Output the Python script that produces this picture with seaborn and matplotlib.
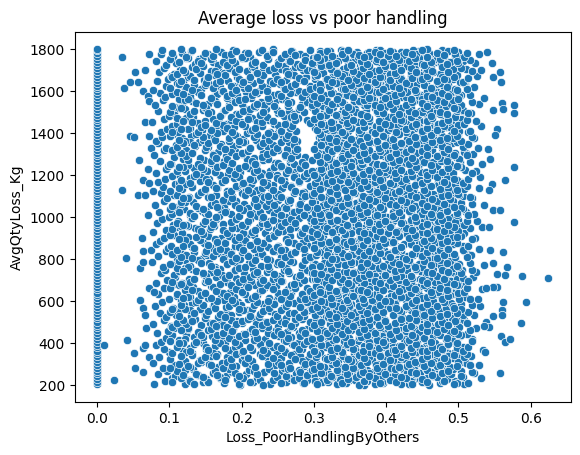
import pandas as pd
import matplotlib
matplotlib.use("Agg")
import matplotlib.pyplot as plt
import seaborn as sns

# points sitting exactly on Loss_PoorHandlingByOthers = 0 (only the qty varies)
zero_loss_qty = [203, 214, 229, 241, 256, 268, 283, 297, 309, 322, 338, 351, 364, 379, 392, 406,
                 418, 433, 447, 461, 474, 488, 502, 517, 529, 543, 558, 571, 586, 599, 613, 627,
                 640, 655, 668, 682, 697, 710, 724, 737, 752, 766, 779, 793, 808, 821, 835, 849,
                 862, 877, 890, 904, 919, 932, 946, 960, 973, 988, 1001, 1015, 1029, 1043, 1057,
                 1070, 1084, 1099, 1112, 1126, 1140, 1153, 1168, 1181, 1195, 1209, 1224, 1237,
                 1251, 1266, 1279, 1293, 1307, 1320, 1335, 1349, 1362, 1377, 1390, 1404, 1418,
                 1432, 1446, 1460, 1473, 1488, 1501, 1515, 1529, 1543, 1557, 1570, 1584, 1599,
                 1612, 1626, 1640, 1654, 1668, 1681, 1696, 1709, 1723, 1738, 1751, 1765, 1779,
                 1794, 1801]

# sparse points left of the main cloud
left_loss = [0.035, 0.072, 0.053, 0.067, 0.037, 0.046, 0.056, 0.063, 0.070, 0.072, 0.046, 0.051,
             0.072, 0.074, 0.035, 0.056, 0.067, 0.063, 0.072, 0.062, 0.040, 0.063, 0.075, 0.060,
             0.063, 0.072, 0.060, 0.063, 0.067, 0.010, 0.042, 0.051, 0.063, 0.066, 0.072, 0.024,
             0.053, 0.063, 0.068, 0.070, 0.066, 0.071, 0.058]
left_qty = [1763, 1774, 1691, 1699, 1615, 1642, 1642, 1599, 1575, 1551, 1384, 1381,
            1384, 1330, 1130, 1106, 1106, 1178, 1162, 900, 804, 836, 844, 757,
            788, 661, 605, 566, 534, 391, 415, 351, 375, 391, 335, 224,
            280, 264, 470, 1010, 1450, 1230, 1270]

# main cloud, loss in thousandths, written row by row (two rows per 40 kg band)
cloud_loss_milli = [
    [79, 94, 103, 121, 127, 146, 152, 170, 176, 193, 198, 216, 221, 239, 244, 262, 267, 285, 291, 306],
    [311, 327, 332, 348, 353, 369, 374, 390, 395, 411, 416, 432, 437, 453, 458, 474, 479, 496, 508, 531],
    [84, 97, 108, 115, 133, 140, 161, 164, 179, 187, 206, 210, 227, 231, 250, 256, 275, 279, 295, 300],
    [318, 321, 336, 342, 360, 363, 381, 384, 399, 405, 424, 426, 441, 447, 466, 468, 483, 490, 503, 522],
    [77, 91, 106, 122, 128, 144, 155, 168, 173, 192, 200, 213, 219, 238, 246, 259, 266, 286, 297, 304],
    [313, 325, 334, 346, 357, 367, 372, 388, 397, 412, 418, 430, 439, 451, 460, 472, 478, 494, 511, 528],
    [86, 99, 101, 117, 131, 142, 157, 166, 180, 189, 203, 209, 226, 235, 249, 255, 272, 281, 292, 301],
    [315, 323, 339, 344, 355, 365, 379, 386, 400, 407, 420, 428, 444, 449, 463, 470, 485, 492, 499, 517],
    [81, 93, 110, 119, 129, 147, 151, 163, 182, 191, 197, 214, 225, 237, 243, 260, 270, 283, 298, 307],
    [310, 328, 331, 349, 352, 370, 376, 387, 402, 409, 415, 433, 436, 454, 457, 475, 481, 497, 506, 534],
    [88, 96, 104, 114, 134, 139, 159, 171, 177, 186, 205, 217, 223, 232, 252, 258, 269, 278, 294, 302],
    [319, 320, 340, 341, 361, 362, 378, 383, 403, 404, 423, 425, 443, 446, 465, 467, 486, 489, 502, 519],
    [83, 98, 107, 123, 126, 141, 154, 165, 183, 188, 202, 212, 228, 236, 248, 263, 271, 280, 290, 308],
    [314, 326, 335, 345, 359, 364, 377, 391, 398, 408, 421, 430, 440, 452, 462, 471, 484, 493, 512, 525],
    [78, 92, 102, 118, 135, 144, 156, 169, 174, 194, 200, 218, 220, 233, 251, 254, 274, 284, 299, 303],
    [312, 322, 338, 347, 354, 368, 373, 385, 396, 413, 417, 427, 445, 448, 459, 476, 480, 498, 500, 538],
    [87, 95, 109, 113, 130, 148, 150, 167, 178, 185, 208, 211, 224, 240, 246, 261, 265, 287, 293, 305],
    [317, 329, 330, 343, 356, 366, 380, 389, 394, 410, 419, 434, 438, 450, 464, 469, 487, 491, 507, 521],
    [80, 90, 105, 120, 132, 143, 160, 162, 179, 195, 199, 215, 229, 234, 245, 257, 273, 282, 296, 300],
    [320, 324, 336, 350, 351, 371, 375, 384, 401, 406, 425, 429, 442, 455, 456, 473, 478, 495, 504, 530],
    [85, 99, 111, 116, 128, 145, 153, 172, 175, 190, 204, 209, 222, 238, 250, 259, 268, 281, 295, 309],
    [311, 328, 333, 344, 360, 363, 382, 386, 399, 412, 416, 431, 439, 451, 461, 477, 483, 492, 509, 527],
    [79, 93, 103, 122, 133, 140, 157, 166, 184, 187, 201, 219, 226, 231, 247, 264, 270, 286, 291, 304],
    [316, 323, 339, 348, 353, 369, 372, 392, 397, 407, 420, 426, 444, 447, 466, 470, 481, 497, 501, 533],
    [82, 97, 108, 117, 127, 149, 151, 164, 180, 192, 206, 213, 225, 241, 244, 256, 275, 279, 298, 302],
    [313, 325, 341, 346, 357, 365, 379, 388, 404, 409, 418, 433, 437, 454, 458, 468, 486, 490, 510, 520],
    [89, 94, 106, 114, 131, 146, 158, 170, 173, 189, 203, 216, 221, 235, 253, 258, 266, 284, 292, 306],
    [318, 327, 332, 349, 355, 370, 376, 383, 400, 411, 424, 428, 441, 449, 463, 474, 479, 494, 505, 524],
    [76, 91, 104, 121, 129, 142, 155, 163, 181, 193, 198, 210, 227, 239, 249, 262, 271, 283, 297, 301],
    [310, 321, 337, 342, 358, 367, 381, 390, 395, 408, 422, 432, 436, 453, 460, 472, 485, 496, 498, 536],
    [84, 96, 110, 119, 134, 144, 152, 168, 176, 186, 207, 214, 223, 230, 246, 255, 269, 288, 294, 307],
    [315, 329, 334, 351, 352, 362, 374, 387, 402, 405, 417, 429, 446, 450, 465, 469, 482, 489, 513, 518],
    [81, 98, 102, 115, 132, 148, 161, 167, 179, 191, 200, 217, 229, 237, 251, 260, 272, 278, 290, 305],
    [319, 326, 336, 345, 361, 368, 378, 385, 397, 413, 421, 425, 443, 455, 457, 475, 480, 493, 506, 529],
    [87, 92, 107, 123, 126, 143, 154, 171, 177, 188, 205, 211, 220, 236, 243, 263, 267, 285, 299, 303],
    [312, 322, 340, 347, 354, 364, 383, 391, 396, 410, 419, 434, 440, 448, 462, 471, 487, 497, 502, 523],
    [78, 95, 109, 118, 135, 141, 156, 162, 183, 194, 202, 218, 224, 232, 248, 257, 274, 282, 293, 308],
    [317, 324, 331, 350, 356, 366, 375, 389, 403, 406, 423, 427, 438, 452, 464, 467, 484, 491, 508, 532],
    [83, 90, 105, 112, 130, 147, 159, 165, 174, 190, 208, 212, 228, 240, 252, 254, 268, 280, 296, 300],
    [314, 328, 338, 343, 360, 371, 373, 386, 399, 409, 415, 431, 445, 451, 459, 476, 478, 495, 500, 526],
    [86, 99, 103, 120, 128, 145, 150, 169, 178, 185, 199, 215, 222, 238, 245, 261, 270, 287, 291, 304],
    [320, 323, 335, 348, 353, 363, 380, 384, 401, 412, 418, 430, 442, 447, 466, 470, 483, 492, 511, 521],
    [80, 93, 111, 116, 133, 140, 157, 172, 175, 192, 204, 209, 226, 234, 250, 259, 266, 279, 298, 302],
    [311, 327, 339, 344, 359, 369, 376, 392, 394, 407, 424, 433, 437, 454, 461, 474, 486, 490, 503, 535],
    [88, 97, 106, 122, 127, 146, 153, 164, 182, 187, 201, 219, 227, 231, 247, 264, 273, 283, 294, 306],
    [316, 321, 341, 349, 357, 365, 372, 388, 398, 411, 420, 426, 444, 450, 463, 468, 481, 496, 507, 519],
    [77, 91, 108, 117, 131, 149, 160, 166, 180, 193, 206, 213, 221, 241, 244, 256, 268, 286, 297, 301],
    [313, 325, 332, 346, 355, 370, 379, 383, 404, 406, 416, 432, 439, 449, 458, 476, 479, 494, 499, 528],
    [84, 94, 104, 114, 129, 142, 155, 170, 173, 189, 203, 216, 225, 235, 253, 258, 275, 280, 290, 309],
    [318, 329, 334, 342, 361, 367, 374, 390, 396, 409, 422, 428, 441, 453, 460, 472, 487, 497, 504, 530],
    [81, 96, 110, 121, 134, 144, 152, 163, 181, 194, 198, 210, 228, 239, 249, 262, 272, 276, 305, 311],
    [310, 322, 337, 351, 352, 362, 381, 387, 400, 413, 417, 431, 436, 448, 465, 469, 484, 489, 509, 524],
    [87, 98, 102, 119, 126, 148, 158, 168, 176, 186, 207, 214, 220, 230, 246, 255, 267, 273, 306, 313],
    [319, 326, 336, 345, 358, 368, 378, 385, 402, 405, 421, 429, 446, 455, 457, 471, 480, 493, 502, 533],
    [79, 92, 107, 115, 132, 143, 161, 167, 179, 191, 200, 217, 229, 237, 251, 260, 269, 277, 288, 308],
    [312, 324, 340, 347, 354, 364, 383, 391, 397, 410, 419, 434, 440, 452, 462, 475, 485, 497, 510, 520],
    [85, 95, 109, 123, 135, 141, 154, 171, 177, 188, 205, 211, 224, 236, 243, 263, 265, 274, 304, 315],
    [317, 328, 331, 350, 356, 366, 375, 389, 403, 406, 423, 427, 438, 451, 464, 467, 482, 491, 506, 527],
    [82, 90, 105, 118, 130, 147, 156, 162, 183, 194, 202, 218, 220, 232, 248, 257, 270, 276, 307, 310],
    [314, 321, 338, 343, 360, 371, 373, 386, 399, 409, 415, 431, 445, 449, 459, 476, 478, 495, 500, 522],
    [89, 97, 103, 112, 128, 145, 159, 165, 174, 190, 208, 212, 228, 240, 252, 254, 264, 275, 302, 312],
    [320, 323, 335, 348, 353, 363, 380, 384, 401, 412, 418, 430, 442, 454, 466, 470, 483, 492, 513, 531],
    [76, 93, 111, 116, 133, 140, 150, 169, 178, 185, 199, 215, 222, 238, 245, 261, 271, 278, 291, 306],
    [311, 327, 339, 344, 359, 369, 376, 392, 394, 407, 424, 433, 437, 447, 461, 474, 486, 490, 503, 525],
    [84, 99, 106, 122, 127, 146, 157, 172, 175, 192, 204, 209, 226, 234, 250, 259, 266, 273, 303, 314],
    [316, 325, 341, 349, 357, 365, 372, 388, 398, 411, 420, 426, 444, 450, 463, 468, 481, 496, 507, 518],
    [80, 91, 108, 117, 131, 149, 153, 164, 182, 187, 201, 219, 227, 231, 247, 264, 268, 283, 297, 301],
    [313, 329, 332, 346, 355, 370, 379, 383, 404, 406, 416, 432, 439, 453, 458, 472, 479, 494, 499, 529],
    [87, 94, 104, 114, 129, 142, 160, 166, 180, 193, 206, 213, 221, 241, 244, 256, 275, 286, 290, 309],
    [318, 322, 334, 342, 361, 367, 374, 390, 396, 409, 422, 428, 441, 448, 460, 476, 487, 497, 504, 536],
    [78, 96, 110, 121, 134, 144, 155, 170, 173, 189, 203, 216, 225, 235, 253, 258, 272, 280, 294, 305],
    [310, 324, 337, 351, 352, 362, 381, 387, 400, 413, 417, 431, 436, 455, 465, 469, 484, 489, 509, 521],
    [83, 98, 102, 119, 126, 148, 152, 163, 181, 194, 198, 210, 228, 239, 249, 262, 267, 277, 289, 302],
    [319, 326, 336, 345, 358, 368, 378, 385, 402, 405, 421, 429, 446, 451, 457, 471, 480, 493, 502, 526],
    [86, 92, 107, 115, 132, 143, 158, 168, 176, 186, 207, 214, 220, 230, 246, 255, 269, 274, 285, 307],
    [312, 328, 340, 347, 354, 364, 383, 391, 397, 410, 419, 434, 440, 452, 462, 475, 485, 495, 510, 531],
    [81, 95, 109, 123, 135, 141, 161, 167, 179, 191, 200, 217, 229, 237, 251, 260, 265, 276, 299, 304],
    [317, 321, 331, 350, 356, 366, 375, 389, 403, 406, 423, 427, 438, 449, 464, 467, 482, 491, 506, 523],
    [88, 90, 105, 118, 130, 147, 154, 171, 177, 188, 205, 211, 224, 236, 243, 263, 270, 281, 288, 308],
    [314, 323, 338, 343, 360, 371, 373, 386, 399, 409, 415, 431, 445, 454, 459, 476, 478, 495, 500, 528],
]
cloud_qty = [
    [207, 219, 233, 204, 226, 212, 221, 235, 209, 228, 202, 216, 231, 206, 223, 214, 234, 208, 225, 218],
    [215, 237, 206, 223, 231, 201, 218, 228, 211, 234, 220, 203, 226, 213, 239, 209, 229, 217, 205, 232],
    [251, 269, 243, 262, 274, 247, 257, 270, 245, 264, 253, 272, 250, 260, 241, 267, 255, 273, 261, 249],
    [272, 250, 264, 241, 257, 278, 253, 267, 245, 260, 275, 248, 269, 255, 262, 243, 276, 251, 266, 259],
    [305, 282, 294, 316, 288, 310, 299, 284, 307, 292, 318, 301, 286, 313, 296, 280, 304, 290, 315, 298],
    [284, 302, 316, 294, 307, 289, 311, 298, 282, 305, 292, 317, 287, 300, 313, 296, 308, 280, 303, 293],
    [335, 357, 326, 343, 351, 321, 338, 348, 331, 354, 340, 323, 346, 333, 359, 329, 349, 337, 325, 352],
    [327, 339, 353, 324, 346, 332, 341, 355, 329, 348, 322, 336, 351, 326, 343, 334, 354, 328, 345, 338],
    [392, 370, 384, 361, 377, 398, 373, 387, 365, 380, 395, 368, 389, 375, 382, 363, 396, 371, 386, 379],
    [371, 389, 363, 382, 394, 367, 377, 390, 365, 384, 373, 392, 370, 380, 361, 387, 375, 393, 381, 369],
    [404, 422, 436, 414, 427, 409, 431, 418, 402, 425, 412, 437, 407, 420, 433, 416, 428, 400, 423, 413],
    [425, 402, 414, 436, 408, 430, 419, 404, 427, 412, 438, 421, 406, 433, 416, 400, 424, 410, 435, 418],
    [447, 459, 473, 444, 466, 452, 461, 475, 449, 468, 442, 456, 471, 446, 463, 454, 474, 448, 465, 458],
    [455, 477, 446, 463, 471, 441, 458, 468, 451, 474, 460, 443, 466, 453, 479, 449, 469, 457, 445, 472],
    [491, 509, 483, 502, 514, 487, 497, 510, 485, 504, 493, 512, 490, 500, 481, 507, 495, 513, 501, 489],
    [512, 490, 504, 481, 497, 518, 493, 507, 485, 500, 515, 488, 509, 495, 502, 483, 516, 491, 506, 499],
    [545, 522, 534, 556, 528, 550, 539, 524, 547, 532, 558, 541, 526, 553, 536, 520, 544, 530, 555, 538],
    [524, 542, 556, 534, 547, 529, 551, 538, 522, 545, 532, 557, 527, 540, 553, 536, 548, 520, 543, 533],
    [575, 597, 566, 583, 591, 561, 578, 588, 571, 594, 580, 563, 586, 573, 599, 569, 589, 577, 565, 592],
    [567, 579, 593, 564, 586, 572, 581, 595, 569, 588, 562, 576, 591, 566, 583, 574, 594, 568, 585, 578],
    [632, 610, 624, 601, 617, 638, 613, 627, 605, 620, 635, 608, 629, 615, 622, 603, 636, 611, 626, 619],
    [611, 629, 603, 622, 634, 607, 617, 630, 605, 624, 613, 632, 610, 620, 601, 627, 615, 633, 621, 609],
    [644, 662, 676, 654, 667, 649, 671, 658, 642, 665, 652, 677, 647, 660, 673, 656, 668, 640, 663, 653],
    [665, 642, 654, 676, 648, 670, 659, 644, 667, 652, 678, 661, 646, 673, 656, 640, 664, 650, 675, 658],
    [687, 699, 713, 684, 706, 692, 701, 715, 689, 708, 682, 696, 711, 686, 703, 694, 714, 688, 705, 698],
    [695, 717, 686, 703, 711, 681, 698, 708, 691, 714, 700, 683, 706, 693, 719, 689, 709, 697, 685, 712],
    [731, 749, 723, 742, 754, 727, 737, 750, 725, 744, 733, 752, 730, 740, 721, 747, 735, 753, 741, 729],
    [752, 730, 744, 721, 737, 758, 733, 747, 725, 740, 755, 728, 749, 735, 742, 723, 756, 731, 746, 739],
    [785, 762, 774, 796, 768, 790, 779, 764, 787, 772, 798, 781, 766, 793, 776, 760, 784, 770, 795, 778],
    [764, 782, 796, 774, 787, 769, 791, 778, 762, 785, 772, 797, 767, 780, 793, 776, 788, 760, 783, 773],
    [815, 837, 806, 823, 831, 801, 818, 828, 811, 834, 820, 803, 826, 813, 839, 809, 829, 817, 805, 832],
    [807, 819, 833, 804, 826, 812, 821, 835, 809, 828, 802, 816, 831, 806, 823, 814, 834, 808, 825, 818],
    [872, 850, 864, 841, 857, 878, 853, 867, 845, 860, 875, 848, 869, 855, 862, 843, 876, 851, 866, 859],
    [851, 869, 843, 862, 874, 847, 857, 870, 845, 864, 853, 872, 850, 860, 841, 867, 855, 873, 861, 849],
    [884, 902, 916, 894, 907, 889, 911, 898, 882, 905, 892, 917, 887, 900, 913, 896, 908, 880, 903, 893],
    [905, 882, 894, 916, 888, 910, 899, 884, 907, 892, 918, 901, 886, 913, 896, 880, 904, 890, 915, 898],
    [927, 939, 953, 924, 946, 932, 941, 955, 929, 948, 922, 936, 951, 926, 943, 934, 954, 928, 945, 938],
    [935, 957, 926, 943, 951, 921, 938, 948, 931, 954, 940, 923, 946, 933, 959, 929, 949, 937, 925, 952],
    [971, 989, 963, 982, 994, 967, 977, 990, 965, 984, 973, 992, 970, 980, 961, 987, 975, 993, 981, 969],
    [992, 970, 984, 961, 977, 998, 973, 987, 965, 980, 995, 968, 989, 975, 982, 963, 996, 971, 986, 979],
    [1025, 1002, 1014, 1036, 1008, 1030, 1019, 1004, 1027, 1012, 1038, 1021, 1006, 1033, 1016, 1000, 1024, 1010, 1035, 1018],
    [1004, 1022, 1036, 1014, 1027, 1009, 1031, 1018, 1002, 1025, 1012, 1037, 1007, 1020, 1033, 1016, 1028, 1000, 1023, 1013],
    [1055, 1077, 1046, 1063, 1071, 1041, 1058, 1068, 1051, 1074, 1060, 1043, 1066, 1053, 1079, 1049, 1069, 1057, 1045, 1072],
    [1047, 1059, 1073, 1044, 1066, 1052, 1061, 1075, 1049, 1068, 1042, 1056, 1071, 1046, 1063, 1054, 1074, 1048, 1065, 1058],
    [1112, 1090, 1104, 1081, 1097, 1118, 1093, 1107, 1085, 1100, 1115, 1088, 1109, 1095, 1102, 1083, 1116, 1091, 1106, 1099],
    [1091, 1109, 1083, 1102, 1114, 1087, 1097, 1110, 1085, 1104, 1093, 1112, 1090, 1100, 1081, 1107, 1095, 1113, 1101, 1089],
    [1124, 1142, 1156, 1134, 1147, 1129, 1151, 1138, 1122, 1145, 1132, 1157, 1127, 1140, 1153, 1136, 1148, 1120, 1143, 1133],
    [1145, 1122, 1134, 1156, 1128, 1150, 1139, 1124, 1147, 1132, 1158, 1141, 1126, 1153, 1136, 1120, 1144, 1130, 1155, 1138],
    [1167, 1179, 1193, 1164, 1186, 1172, 1181, 1195, 1169, 1188, 1162, 1176, 1191, 1166, 1183, 1174, 1194, 1168, 1185, 1178],
    [1175, 1197, 1166, 1183, 1191, 1161, 1178, 1188, 1171, 1194, 1180, 1163, 1186, 1173, 1199, 1169, 1189, 1177, 1165, 1192],
    [1211, 1229, 1203, 1222, 1234, 1207, 1217, 1230, 1205, 1224, 1213, 1232, 1210, 1220, 1201, 1227, 1215, 1233, 1221, 1209],
    [1232, 1210, 1224, 1201, 1217, 1238, 1213, 1227, 1205, 1220, 1235, 1208, 1229, 1215, 1222, 1203, 1236, 1211, 1226, 1219],
    [1265, 1242, 1254, 1276, 1248, 1270, 1259, 1244, 1267, 1252, 1278, 1261, 1246, 1273, 1256, 1240, 1264, 1250, 1275, 1258],
    [1244, 1262, 1276, 1254, 1267, 1249, 1271, 1258, 1242, 1265, 1252, 1277, 1247, 1260, 1273, 1256, 1268, 1240, 1263, 1253],
    [1295, 1317, 1286, 1303, 1311, 1281, 1298, 1308, 1291, 1314, 1300, 1283, 1306, 1293, 1319, 1289, 1309, 1297, 1285, 1312],
    [1287, 1299, 1313, 1284, 1306, 1292, 1301, 1315, 1289, 1308, 1282, 1296, 1311, 1286, 1303, 1294, 1314, 1288, 1305, 1298],
    [1352, 1330, 1344, 1321, 1337, 1358, 1333, 1347, 1325, 1340, 1355, 1328, 1349, 1335, 1342, 1323, 1356, 1331, 1346, 1339],
    [1331, 1349, 1323, 1342, 1354, 1327, 1337, 1350, 1325, 1344, 1333, 1352, 1330, 1340, 1321, 1347, 1335, 1353, 1341, 1329],
    [1364, 1382, 1396, 1374, 1387, 1369, 1391, 1378, 1362, 1385, 1372, 1397, 1367, 1380, 1393, 1376, 1388, 1360, 1383, 1373],
    [1385, 1362, 1374, 1396, 1368, 1390, 1379, 1364, 1387, 1372, 1398, 1381, 1366, 1393, 1376, 1360, 1384, 1370, 1395, 1378],
    [1407, 1419, 1433, 1404, 1426, 1412, 1421, 1435, 1409, 1428, 1402, 1416, 1431, 1406, 1423, 1414, 1434, 1408, 1425, 1418],
    [1415, 1437, 1406, 1423, 1431, 1401, 1418, 1428, 1411, 1434, 1420, 1403, 1426, 1413, 1439, 1409, 1429, 1417, 1405, 1432],
    [1451, 1469, 1443, 1462, 1474, 1447, 1457, 1470, 1445, 1464, 1453, 1472, 1450, 1460, 1441, 1467, 1455, 1473, 1461, 1449],
    [1472, 1450, 1464, 1441, 1457, 1478, 1453, 1467, 1445, 1460, 1475, 1448, 1469, 1455, 1462, 1443, 1476, 1451, 1466, 1459],
    [1505, 1482, 1494, 1516, 1488, 1510, 1499, 1484, 1507, 1492, 1518, 1501, 1486, 1513, 1496, 1480, 1504, 1490, 1515, 1498],
    [1484, 1502, 1516, 1494, 1507, 1489, 1511, 1498, 1482, 1505, 1492, 1517, 1487, 1500, 1513, 1496, 1508, 1480, 1503, 1493],
    [1535, 1557, 1526, 1543, 1551, 1521, 1538, 1548, 1531, 1554, 1540, 1523, 1546, 1533, 1559, 1529, 1549, 1537, 1525, 1552],
    [1527, 1539, 1553, 1524, 1546, 1532, 1541, 1555, 1529, 1548, 1522, 1536, 1551, 1526, 1543, 1534, 1554, 1528, 1545, 1538],
    [1592, 1570, 1584, 1561, 1577, 1598, 1573, 1587, 1565, 1580, 1595, 1568, 1589, 1575, 1582, 1563, 1596, 1571, 1586, 1579],
    [1571, 1589, 1563, 1582, 1594, 1567, 1577, 1590, 1565, 1584, 1573, 1592, 1570, 1580, 1561, 1587, 1575, 1593, 1581, 1569],
    [1604, 1622, 1636, 1614, 1627, 1609, 1631, 1618, 1602, 1625, 1612, 1637, 1607, 1620, 1633, 1616, 1628, 1600, 1623, 1613],
    [1625, 1602, 1614, 1636, 1608, 1630, 1619, 1604, 1627, 1612, 1638, 1621, 1606, 1633, 1616, 1600, 1624, 1610, 1635, 1618],
    [1647, 1659, 1673, 1644, 1666, 1652, 1661, 1675, 1649, 1668, 1642, 1656, 1671, 1646, 1663, 1654, 1674, 1648, 1665, 1658],
    [1655, 1677, 1646, 1663, 1671, 1641, 1658, 1668, 1651, 1674, 1660, 1643, 1666, 1653, 1679, 1649, 1669, 1657, 1645, 1672],
    [1691, 1709, 1683, 1702, 1714, 1687, 1697, 1710, 1685, 1704, 1693, 1712, 1690, 1700, 1681, 1707, 1695, 1713, 1701, 1689],
    [1712, 1690, 1704, 1681, 1697, 1718, 1693, 1707, 1685, 1700, 1715, 1688, 1709, 1695, 1702, 1683, 1716, 1691, 1706, 1699],
    [1745, 1722, 1734, 1756, 1728, 1750, 1739, 1724, 1747, 1732, 1758, 1741, 1726, 1753, 1736, 1720, 1744, 1730, 1755, 1738],
    [1724, 1742, 1756, 1734, 1747, 1729, 1751, 1738, 1722, 1745, 1732, 1757, 1727, 1740, 1753, 1736, 1748, 1720, 1743, 1733],
    [1775, 1797, 1766, 1783, 1791, 1761, 1778, 1788, 1771, 1794, 1780, 1763, 1786, 1773, 1799, 1769, 1789, 1777, 1765, 1792],
    [1767, 1779, 1793, 1764, 1786, 1772, 1781, 1795, 1769, 1788, 1762, 1776, 1791, 1766, 1783, 1774, 1794, 1768, 1785, 1778],
]

# second, denser layer of the cloud (0.12 - 0.52)
cloud2_loss_milli = [
    [128, 134, 151, 154, 170, 177, 196, 202, 212, 226, 230, 249, 255, 272, 279, 287, 302, 317, 319, 336],
    [345, 357, 359, 370, 385, 389, 394, 410, 418, 420, 435, 447, 449, 460, 475, 477, 484, 498, 507, 513],
    [121, 137, 146, 163, 166, 182, 191, 197, 217, 222, 238, 245, 262, 264, 281, 291, 298, 312, 327, 332],
    [342, 348, 364, 374, 376, 394, 399, 405, 412, 429, 434, 440, 455, 462, 465, 483, 490, 492, 503, 519],
    [126, 140, 144, 157, 174, 180, 187, 205, 215, 219, 236, 250, 254, 267, 284, 288, 297, 314, 326, 333],
    [347, 351, 366, 367, 381, 386, 403, 407, 415, 427, 429, 446, 450, 465, 470, 476, 489, 501, 500, 516],
    [123, 131, 149, 161, 165, 185, 192, 200, 209, 228, 235, 243, 260, 269, 274, 294, 303, 308, 322, 339],
    [340, 354, 361, 376, 377, 391, 398, 402, 420, 423, 437, 442, 457, 457, 472, 480, 485, 496, 508, 512],
    [128, 134, 151, 154, 170, 177, 196, 202, 212, 226, 230, 249, 255, 272, 279, 287, 302, 317, 319, 336],
    [345, 357, 359, 370, 385, 389, 394, 410, 418, 420, 435, 447, 449, 460, 475, 477, 484, 498, 507, 513],
    [121, 137, 146, 163, 166, 182, 191, 197, 217, 222, 238, 245, 262, 264, 281, 291, 298, 312, 327, 332],
    [342, 348, 364, 374, 376, 394, 399, 405, 412, 429, 434, 440, 455, 462, 465, 483, 490, 492, 503, 519],
    [126, 140, 144, 157, 174, 180, 187, 205, 215, 219, 236, 250, 254, 267, 284, 288, 297, 314, 326, 333],
    [347, 351, 366, 367, 381, 386, 403, 407, 415, 427, 429, 446, 450, 465, 470, 476, 489, 501, 500, 516],
    [123, 131, 149, 161, 165, 185, 192, 200, 209, 228, 235, 243, 260, 269, 274, 294, 303, 308, 322, 339],
    [340, 354, 361, 376, 377, 391, 398, 402, 420, 423, 437, 442, 457, 457, 472, 480, 485, 496, 508, 512],
    [128, 134, 151, 154, 170, 177, 196, 202, 212, 226, 230, 249, 255, 272, 279, 287, 302, 317, 319, 336],
    [345, 357, 359, 370, 385, 389, 394, 410, 418, 420, 435, 447, 449, 460, 475, 477, 484, 498, 507, 513],
    [121, 137, 146, 163, 166, 182, 191, 197, 217, 222, 238, 245, 262, 264, 281, 291, 298, 312, 327, 332],
    [342, 348, 364, 374, 376, 394, 399, 405, 412, 429, 434, 440, 455, 462, 465, 483, 490, 492, 503, 519],
    [126, 140, 144, 157, 174, 180, 187, 205, 215, 219, 236, 250, 254, 267, 284, 288, 297, 314, 326, 333],
    [347, 351, 366, 367, 381, 386, 403, 407, 415, 427, 429, 446, 450, 465, 470, 476, 489, 501, 500, 516],
    [123, 131, 149, 161, 165, 185, 192, 200, 209, 228, 235, 243, 260, 269, 274, 294, 303, 308, 322, 339],
    [340, 354, 361, 376, 377, 391, 398, 402, 420, 423, 437, 442, 457, 457, 472, 480, 485, 496, 508, 512],
    [128, 134, 151, 154, 170, 177, 196, 202, 212, 226, 230, 249, 255, 272, 279, 287, 302, 317, 319, 336],
    [345, 357, 359, 370, 385, 389, 394, 410, 418, 420, 435, 447, 449, 460, 475, 477, 484, 498, 507, 513],
    [121, 137, 146, 163, 166, 182, 191, 197, 217, 222, 238, 245, 262, 264, 281, 291, 298, 312, 327, 332],
    [342, 348, 364, 374, 376, 394, 399, 405, 412, 429, 434, 440, 455, 462, 465, 483, 490, 492, 503, 519],
    [126, 140, 144, 157, 174, 180, 187, 205, 215, 219, 236, 250, 254, 267, 284, 288, 297, 314, 326, 333],
    [347, 351, 366, 367, 381, 386, 403, 407, 415, 427, 429, 446, 450, 465, 470, 476, 489, 501, 500, 516],
    [123, 131, 149, 161, 165, 185, 192, 200, 209, 228, 235, 243, 260, 269, 274, 294, 303, 308, 322, 339],
    [340, 354, 361, 376, 377, 391, 398, 402, 420, 423, 437, 442, 457, 457, 472, 480, 485, 496, 508, 512],
    [128, 134, 151, 154, 170, 177, 196, 202, 212, 226, 230, 249, 255, 272, 279, 287, 302, 317, 319, 336],
    [345, 357, 359, 370, 385, 389, 394, 410, 418, 420, 435, 447, 449, 460, 475, 477, 484, 498, 507, 513],
    [121, 137, 146, 163, 166, 182, 191, 197, 217, 222, 238, 245, 262, 264, 281, 291, 298, 312, 327, 332],
    [342, 348, 364, 374, 376, 394, 399, 405, 412, 429, 434, 440, 455, 462, 465, 483, 490, 492, 503, 519],
    [126, 140, 144, 157, 174, 180, 187, 205, 215, 219, 236, 250, 254, 267, 284, 288, 297, 314, 326, 333],
    [347, 351, 366, 367, 381, 386, 403, 407, 415, 427, 429, 446, 450, 465, 470, 476, 489, 501, 500, 516],
    [123, 131, 149, 161, 165, 185, 192, 200, 209, 228, 235, 243, 260, 269, 274, 294, 303, 308, 322, 339],
    [340, 354, 361, 376, 377, 391, 398, 402, 420, 423, 437, 442, 457, 457, 472, 480, 485, 496, 508, 512],
    [128, 134, 151, 154, 170, 177, 196, 202, 212, 226, 230, 249, 255, 272, 279, 287, 302, 317, 319, 336],
    [345, 357, 359, 370, 385, 389, 394, 410, 418, 420, 435, 447, 449, 460, 475, 477, 484, 498, 507, 513],
    [121, 137, 146, 163, 166, 182, 191, 197, 217, 222, 238, 245, 262, 264, 281, 291, 298, 312, 327, 332],
    [342, 348, 364, 374, 376, 394, 399, 405, 412, 429, 434, 440, 455, 462, 465, 483, 490, 492, 503, 519],
    [126, 140, 144, 157, 174, 180, 187, 205, 215, 219, 236, 250, 254, 267, 284, 288, 297, 314, 326, 333],
    [347, 351, 366, 367, 381, 386, 403, 407, 415, 427, 429, 446, 450, 465, 470, 476, 489, 501, 500, 516],
    [123, 131, 149, 161, 165, 185, 192, 200, 209, 228, 235, 243, 260, 269, 274, 294, 303, 308, 322, 339],
    [340, 354, 361, 376, 377, 391, 398, 402, 420, 423, 437, 442, 457, 457, 472, 480, 485, 496, 508, 512],
    [128, 134, 151, 154, 170, 177, 196, 202, 212, 226, 230, 249, 255, 272, 279, 287, 302, 317, 319, 336],
    [345, 357, 359, 370, 385, 389, 394, 410, 418, 420, 435, 447, 449, 460, 475, 477, 484, 498, 507, 513],
    [121, 137, 146, 163, 166, 182, 191, 197, 217, 222, 238, 245, 262, 264, 281, 291, 298, 312, 327, 332],
    [342, 348, 364, 374, 376, 394, 399, 405, 412, 429, 434, 440, 455, 462, 465, 483, 490, 492, 503, 519],
    [126, 140, 144, 157, 174, 180, 187, 205, 215, 219, 236, 250, 254, 267, 284, 288, 297, 314, 326, 333],
    [347, 351, 366, 367, 381, 386, 403, 407, 415, 427, 429, 446, 450, 465, 470, 476, 489, 501, 500, 516],
    [123, 131, 149, 161, 165, 185, 192, 200, 209, 228, 235, 243, 260, 269, 274, 313, 306, 308, 322, 339],
    [340, 354, 361, 376, 377, 391, 398, 402, 420, 423, 437, 442, 457, 457, 472, 480, 485, 496, 508, 512],
    [128, 134, 151, 154, 170, 177, 196, 202, 212, 226, 230, 249, 255, 272, 276, 314, 321, 317, 319, 336],
    [345, 357, 359, 370, 385, 389, 394, 410, 418, 420, 435, 447, 449, 460, 475, 477, 484, 498, 507, 513],
    [121, 137, 146, 163, 166, 182, 191, 197, 217, 222, 238, 245, 262, 264, 273, 311, 318, 312, 327, 332],
    [342, 348, 364, 374, 376, 394, 399, 405, 412, 429, 434, 440, 455, 462, 465, 483, 490, 492, 503, 519],
    [126, 140, 144, 157, 174, 180, 187, 205, 215, 219, 236, 250, 254, 267, 270, 309, 316, 314, 326, 333],
    [347, 351, 366, 367, 381, 386, 403, 407, 415, 427, 429, 446, 450, 465, 470, 476, 489, 501, 500, 516],
    [123, 131, 149, 161, 165, 185, 192, 200, 209, 228, 235, 243, 260, 269, 274, 294, 303, 308, 322, 339],
    [340, 354, 361, 376, 377, 391, 398, 402, 420, 423, 437, 442, 457, 457, 472, 480, 485, 496, 508, 512],
    [128, 134, 151, 154, 170, 177, 196, 202, 212, 226, 230, 249, 255, 272, 279, 287, 302, 317, 319, 336],
    [345, 357, 359, 370, 385, 389, 394, 410, 418, 420, 435, 447, 449, 460, 475, 477, 484, 498, 507, 513],
    [121, 137, 146, 163, 166, 182, 191, 197, 217, 222, 238, 245, 262, 264, 281, 291, 298, 312, 327, 332],
    [342, 348, 364, 374, 376, 394, 399, 405, 412, 429, 434, 440, 455, 462, 465, 483, 490, 492, 503, 519],
    [126, 140, 144, 157, 174, 180, 187, 205, 215, 219, 236, 250, 254, 267, 284, 288, 297, 314, 326, 333],
    [347, 351, 366, 367, 381, 386, 403, 407, 415, 427, 429, 446, 450, 465, 470, 476, 489, 501, 500, 516],
    [123, 131, 149, 161, 165, 185, 192, 200, 209, 228, 235, 243, 260, 269, 274, 294, 303, 308, 322, 339],
    [340, 354, 361, 376, 377, 391, 398, 402, 420, 423, 437, 442, 457, 457, 472, 480, 485, 496, 508, 512],
    [128, 134, 151, 154, 170, 177, 196, 202, 212, 226, 230, 249, 255, 272, 279, 287, 302, 317, 319, 336],
    [345, 357, 359, 370, 385, 389, 394, 410, 418, 420, 435, 447, 449, 460, 475, 477, 484, 498, 507, 513],
    [121, 137, 146, 163, 166, 182, 191, 197, 217, 222, 238, 245, 262, 264, 281, 291, 298, 312, 327, 332],
    [342, 348, 364, 374, 376, 394, 399, 405, 412, 429, 434, 440, 455, 462, 465, 483, 490, 492, 503, 519],
    [126, 140, 144, 157, 174, 180, 187, 205, 215, 219, 236, 250, 254, 267, 284, 288, 297, 314, 326, 333],
    [347, 351, 366, 367, 381, 386, 403, 407, 415, 427, 429, 446, 450, 465, 470, 476, 489, 501, 500, 516],
    [123, 131, 149, 161, 165, 185, 192, 200, 209, 228, 235, 243, 260, 269, 274, 294, 303, 308, 322, 339],
    [340, 354, 361, 376, 377, 391, 398, 402, 420, 423, 437, 442, 457, 457, 472, 480, 485, 496, 508, 512],
]
cloud2_qty = [
    [218, 203, 229, 212, 237, 222, 206, 233, 215, 226, 201, 239, 210, 224, 231, 208, 220, 235, 213, 227],
    [209, 226, 238, 217, 203, 231, 212, 224, 236, 206, 220, 229, 214, 201, 233, 219, 227, 208, 239, 211],
    [270, 254, 240, 265, 249, 276, 259, 245, 268, 251, 274, 257, 242, 278, 263, 247, 272, 256, 244, 261],
    [276, 261, 251, 272, 256, 244, 267, 278, 247, 259, 270, 250, 275, 263, 245, 268, 253, 277, 242, 264],
    [289, 306, 318, 297, 283, 311, 292, 304, 316, 286, 300, 309, 294, 281, 313, 299, 307, 288, 319, 291],
    [282, 313, 300, 288, 319, 294, 309, 281, 302, 317, 289, 305, 298, 311, 292, 316, 284, 303, 310, 296],
    [356, 341, 331, 352, 336, 324, 347, 358, 327, 339, 350, 330, 355, 343, 325, 348, 333, 357, 322, 344],
    [338, 323, 349, 332, 357, 342, 326, 353, 335, 346, 321, 359, 330, 344, 351, 328, 340, 355, 333, 347],
    [362, 393, 380, 368, 399, 374, 389, 361, 382, 397, 369, 385, 378, 391, 372, 396, 364, 383, 390, 376],
    [390, 374, 360, 385, 369, 396, 379, 365, 388, 371, 394, 377, 362, 398, 383, 367, 392, 376, 364, 381],
    [418, 403, 429, 412, 437, 422, 406, 433, 415, 426, 401, 439, 410, 424, 431, 408, 420, 435, 413, 427],
    [409, 426, 438, 417, 403, 431, 412, 424, 436, 406, 420, 429, 414, 401, 433, 419, 427, 408, 439, 411],
    [470, 454, 440, 465, 449, 476, 459, 445, 468, 451, 474, 457, 442, 478, 463, 447, 472, 456, 444, 461],
    [476, 461, 451, 472, 456, 444, 467, 478, 447, 459, 470, 450, 475, 463, 445, 468, 453, 477, 442, 464],
    [489, 506, 518, 497, 483, 511, 492, 504, 516, 486, 500, 509, 494, 481, 513, 499, 507, 488, 519, 491],
    [482, 513, 500, 488, 519, 494, 509, 481, 502, 517, 489, 505, 498, 511, 492, 516, 484, 503, 510, 496],
    [556, 541, 531, 552, 536, 524, 547, 558, 527, 539, 550, 530, 555, 543, 525, 548, 533, 557, 522, 544],
    [538, 523, 549, 532, 557, 542, 526, 553, 535, 546, 521, 559, 530, 544, 551, 528, 540, 555, 533, 547],
    [562, 593, 580, 568, 599, 574, 589, 561, 582, 597, 569, 585, 578, 591, 572, 596, 564, 583, 590, 576],
    [590, 574, 560, 585, 569, 596, 579, 565, 588, 571, 594, 577, 562, 598, 583, 567, 592, 576, 564, 581],
    [618, 603, 629, 612, 637, 622, 606, 633, 615, 626, 601, 639, 610, 624, 631, 608, 620, 635, 613, 627],
    [609, 626, 638, 617, 603, 631, 612, 624, 636, 606, 620, 629, 614, 601, 633, 619, 627, 608, 639, 611],
    [670, 654, 640, 665, 649, 676, 659, 645, 668, 651, 674, 657, 642, 678, 663, 647, 672, 656, 644, 661],
    [676, 661, 651, 672, 656, 644, 667, 678, 647, 659, 670, 650, 675, 663, 645, 668, 653, 677, 642, 664],
    [689, 706, 718, 697, 683, 711, 692, 704, 716, 686, 700, 709, 694, 681, 713, 699, 707, 688, 719, 691],
    [682, 713, 700, 688, 719, 694, 709, 681, 702, 717, 689, 705, 698, 711, 692, 716, 684, 703, 710, 696],
    [756, 741, 731, 752, 736, 724, 747, 758, 727, 739, 750, 730, 755, 743, 725, 748, 733, 757, 722, 744],
    [738, 723, 749, 732, 757, 742, 726, 753, 735, 746, 721, 759, 730, 744, 751, 728, 740, 755, 733, 747],
    [762, 793, 780, 768, 799, 774, 789, 761, 782, 797, 769, 785, 778, 791, 772, 796, 764, 783, 790, 776],
    [790, 774, 760, 785, 769, 796, 779, 765, 788, 771, 794, 777, 762, 798, 783, 767, 792, 776, 764, 781],
    [818, 803, 829, 812, 837, 822, 806, 833, 815, 826, 801, 839, 810, 824, 831, 808, 820, 835, 813, 827],
    [809, 826, 838, 817, 803, 831, 812, 824, 836, 806, 820, 829, 814, 801, 833, 819, 827, 808, 839, 811],
    [870, 854, 840, 865, 849, 876, 859, 845, 868, 851, 874, 857, 842, 878, 863, 847, 872, 856, 844, 861],
    [876, 861, 851, 872, 856, 844, 867, 878, 847, 859, 870, 850, 875, 863, 845, 868, 853, 877, 842, 864],
    [889, 906, 918, 897, 883, 911, 892, 904, 916, 886, 900, 909, 894, 881, 913, 899, 907, 888, 919, 891],
    [882, 913, 900, 888, 919, 894, 909, 881, 902, 917, 889, 905, 898, 911, 892, 916, 884, 903, 910, 896],
    [956, 941, 931, 952, 936, 924, 947, 958, 927, 939, 950, 930, 955, 943, 925, 948, 933, 957, 922, 944],
    [938, 923, 949, 932, 957, 942, 926, 953, 935, 946, 921, 959, 930, 944, 951, 928, 940, 955, 933, 947],
    [962, 993, 980, 968, 999, 974, 989, 961, 982, 997, 969, 985, 978, 991, 972, 996, 964, 983, 990, 976],
    [990, 974, 960, 985, 969, 996, 979, 965, 988, 971, 994, 977, 962, 998, 983, 967, 992, 976, 964, 981],
    [1018, 1003, 1029, 1012, 1037, 1022, 1006, 1033, 1015, 1026, 1001, 1039, 1010, 1024, 1031, 1008, 1020, 1035, 1013, 1027],
    [1009, 1026, 1038, 1017, 1003, 1031, 1012, 1024, 1036, 1006, 1020, 1029, 1014, 1001, 1033, 1019, 1027, 1008, 1039, 1011],
    [1070, 1054, 1040, 1065, 1049, 1076, 1059, 1045, 1068, 1051, 1074, 1057, 1042, 1078, 1063, 1047, 1072, 1056, 1044, 1061],
    [1076, 1061, 1051, 1072, 1056, 1044, 1067, 1078, 1047, 1059, 1070, 1050, 1075, 1063, 1045, 1068, 1053, 1077, 1042, 1064],
    [1089, 1106, 1118, 1097, 1083, 1111, 1092, 1104, 1116, 1086, 1100, 1109, 1094, 1081, 1113, 1099, 1107, 1088, 1119, 1091],
    [1082, 1113, 1100, 1088, 1119, 1094, 1109, 1081, 1102, 1117, 1089, 1105, 1098, 1111, 1092, 1116, 1084, 1103, 1110, 1096],
    [1156, 1141, 1131, 1152, 1136, 1124, 1147, 1158, 1127, 1139, 1150, 1130, 1155, 1143, 1125, 1148, 1133, 1157, 1122, 1144],
    [1138, 1123, 1149, 1132, 1157, 1142, 1126, 1153, 1135, 1146, 1121, 1159, 1130, 1144, 1151, 1128, 1140, 1155, 1133, 1147],
    [1162, 1193, 1180, 1168, 1199, 1174, 1189, 1161, 1182, 1197, 1169, 1185, 1178, 1191, 1172, 1196, 1164, 1183, 1190, 1176],
    [1190, 1174, 1160, 1185, 1169, 1196, 1179, 1165, 1188, 1171, 1194, 1177, 1162, 1198, 1183, 1167, 1192, 1176, 1164, 1181],
    [1218, 1203, 1229, 1212, 1237, 1222, 1206, 1233, 1215, 1226, 1201, 1239, 1210, 1224, 1231, 1208, 1220, 1235, 1213, 1227],
    [1209, 1226, 1238, 1217, 1203, 1231, 1212, 1224, 1236, 1206, 1220, 1229, 1214, 1201, 1233, 1219, 1227, 1208, 1239, 1211],
    [1270, 1254, 1240, 1265, 1249, 1276, 1259, 1245, 1268, 1251, 1274, 1257, 1242, 1278, 1263, 1247, 1272, 1256, 1244, 1261],
    [1276, 1261, 1251, 1272, 1256, 1244, 1267, 1278, 1247, 1259, 1270, 1250, 1275, 1263, 1245, 1268, 1253, 1277, 1242, 1264],
    [1289, 1306, 1318, 1297, 1283, 1311, 1292, 1304, 1316, 1286, 1300, 1309, 1294, 1281, 1313, 1299, 1307, 1288, 1319, 1291],
    [1282, 1313, 1300, 1288, 1319, 1294, 1309, 1281, 1302, 1317, 1289, 1305, 1298, 1311, 1292, 1316, 1284, 1303, 1310, 1296],
    [1356, 1341, 1331, 1352, 1336, 1324, 1347, 1358, 1327, 1339, 1350, 1330, 1355, 1343, 1325, 1348, 1333, 1357, 1322, 1344],
    [1338, 1323, 1349, 1332, 1357, 1342, 1326, 1353, 1335, 1346, 1321, 1359, 1330, 1344, 1351, 1328, 1340, 1355, 1333, 1347],
    [1362, 1393, 1380, 1368, 1399, 1374, 1389, 1361, 1382, 1397, 1369, 1385, 1378, 1391, 1372, 1396, 1364, 1383, 1390, 1376],
    [1390, 1374, 1360, 1385, 1369, 1396, 1379, 1365, 1388, 1371, 1394, 1377, 1362, 1398, 1383, 1367, 1392, 1376, 1364, 1381],
    [1418, 1403, 1429, 1412, 1437, 1422, 1406, 1433, 1415, 1426, 1401, 1439, 1410, 1424, 1431, 1408, 1420, 1435, 1413, 1427],
    [1409, 1426, 1438, 1417, 1403, 1431, 1412, 1424, 1436, 1406, 1420, 1429, 1414, 1401, 1433, 1419, 1427, 1408, 1439, 1411],
    [1470, 1454, 1440, 1465, 1449, 1476, 1459, 1445, 1468, 1451, 1474, 1457, 1442, 1478, 1463, 1447, 1472, 1456, 1444, 1461],
    [1476, 1461, 1451, 1472, 1456, 1444, 1467, 1478, 1447, 1459, 1470, 1450, 1475, 1463, 1445, 1468, 1453, 1477, 1442, 1464],
    [1489, 1506, 1518, 1497, 1483, 1511, 1492, 1504, 1516, 1486, 1500, 1509, 1494, 1481, 1513, 1499, 1507, 1488, 1519, 1491],
    [1482, 1513, 1500, 1488, 1519, 1494, 1509, 1481, 1502, 1517, 1489, 1505, 1498, 1511, 1492, 1516, 1484, 1503, 1510, 1496],
    [1556, 1541, 1531, 1552, 1536, 1524, 1547, 1558, 1527, 1539, 1550, 1530, 1555, 1543, 1525, 1548, 1533, 1557, 1522, 1544],
    [1538, 1523, 1549, 1532, 1557, 1542, 1526, 1553, 1535, 1546, 1521, 1559, 1530, 1544, 1551, 1528, 1540, 1555, 1533, 1547],
    [1562, 1593, 1580, 1568, 1599, 1574, 1589, 1561, 1582, 1597, 1569, 1585, 1578, 1591, 1572, 1596, 1564, 1583, 1590, 1576],
    [1590, 1574, 1560, 1585, 1569, 1596, 1579, 1565, 1588, 1571, 1594, 1577, 1562, 1598, 1583, 1567, 1592, 1576, 1564, 1581],
    [1618, 1603, 1629, 1612, 1637, 1622, 1606, 1633, 1615, 1626, 1601, 1639, 1610, 1624, 1631, 1608, 1620, 1635, 1613, 1627],
    [1609, 1626, 1638, 1617, 1603, 1631, 1612, 1624, 1636, 1606, 1620, 1629, 1614, 1601, 1633, 1619, 1627, 1608, 1639, 1611],
    [1670, 1654, 1640, 1665, 1649, 1676, 1659, 1645, 1668, 1651, 1674, 1657, 1642, 1678, 1663, 1647, 1672, 1656, 1644, 1661],
    [1676, 1661, 1651, 1672, 1656, 1644, 1667, 1678, 1647, 1659, 1670, 1650, 1675, 1663, 1645, 1668, 1653, 1677, 1642, 1664],
    [1689, 1706, 1718, 1697, 1683, 1711, 1692, 1704, 1716, 1686, 1700, 1709, 1694, 1681, 1713, 1699, 1707, 1688, 1719, 1691],
    [1682, 1713, 1700, 1688, 1719, 1694, 1709, 1681, 1702, 1717, 1689, 1705, 1698, 1711, 1692, 1716, 1684, 1703, 1710, 1696],
    [1756, 1741, 1731, 1752, 1736, 1724, 1747, 1758, 1727, 1739, 1750, 1730, 1755, 1743, 1725, 1748, 1733, 1757, 1722, 1744],
    [1738, 1723, 1749, 1732, 1757, 1742, 1726, 1753, 1735, 1746, 1721, 1759, 1730, 1744, 1751, 1728, 1740, 1755, 1733, 1747],
    [1762, 1793, 1780, 1768, 1799, 1774, 1789, 1761, 1782, 1797, 1769, 1785, 1778, 1791, 1772, 1796, 1764, 1783, 1790, 1776],
    [1790, 1774, 1760, 1785, 1769, 1796, 1779, 1765, 1788, 1771, 1794, 1777, 1762, 1798, 1783, 1767, 1792, 1776, 1764, 1781],
]

# third layer, the densest stretch 0.30 - 0.50 plus a few near 0.10 (one row per band)
cloud3_loss_milli = [
    [104, 116, 305, 318, 325, 339, 347, 362, 370, 384, 391, 405, 414, 428, 436, 449, 457, 471, 480, 494],
    [110, 119, 300, 310, 324, 332, 346, 354, 368, 376, 390, 398, 412, 420, 434, 442, 456, 464, 478, 486],
    [101, 113, 308, 321, 330, 343, 352, 365, 374, 387, 396, 409, 418, 431, 440, 453, 462, 475, 484, 498],
    [104, 116, 305, 318, 325, 339, 347, 362, 370, 384, 391, 405, 414, 428, 436, 449, 457, 471, 480, 494],
    [110, 119, 300, 310, 324, 332, 346, 354, 368, 376, 390, 398, 412, 420, 434, 442, 456, 464, 478, 486],
    [101, 113, 308, 321, 330, 343, 352, 365, 374, 387, 396, 409, 418, 431, 440, 453, 462, 475, 484, 498],
    [104, 116, 305, 318, 325, 339, 347, 362, 370, 384, 391, 405, 414, 428, 436, 449, 457, 471, 480, 494],
    [110, 119, 300, 310, 324, 332, 346, 354, 368, 376, 390, 398, 412, 420, 434, 442, 456, 464, 478, 486],
    [101, 113, 308, 321, 330, 343, 352, 365, 374, 387, 396, 409, 418, 431, 440, 453, 462, 475, 484, 498],
    [104, 116, 305, 318, 325, 339, 347, 362, 370, 384, 391, 405, 414, 428, 436, 449, 457, 471, 480, 494],
    [110, 119, 300, 310, 324, 332, 346, 354, 368, 376, 390, 398, 412, 420, 434, 442, 456, 464, 478, 486],
    [101, 113, 308, 321, 330, 343, 352, 365, 374, 387, 396, 409, 418, 431, 440, 453, 462, 475, 484, 498],
    [104, 116, 305, 318, 325, 339, 347, 362, 370, 384, 391, 405, 414, 428, 436, 449, 457, 471, 480, 494],
    [110, 119, 300, 310, 324, 332, 346, 354, 368, 376, 390, 398, 412, 420, 434, 442, 456, 464, 478, 486],
    [101, 113, 308, 321, 330, 343, 352, 365, 374, 387, 396, 409, 418, 431, 440, 453, 462, 475, 484, 498],
    [104, 116, 305, 318, 325, 339, 347, 362, 370, 384, 391, 405, 414, 428, 436, 449, 457, 471, 480, 494],
    [110, 119, 300, 310, 324, 332, 346, 354, 368, 376, 390, 398, 412, 420, 434, 442, 456, 464, 478, 486],
    [101, 113, 308, 321, 330, 343, 352, 365, 374, 387, 396, 409, 418, 431, 440, 453, 462, 475, 484, 498],
    [104, 116, 305, 318, 325, 339, 347, 362, 370, 384, 391, 405, 414, 428, 436, 449, 457, 471, 480, 494],
    [110, 119, 300, 310, 324, 332, 346, 354, 368, 376, 390, 398, 412, 420, 434, 442, 456, 464, 478, 486],
    [101, 113, 308, 321, 330, 343, 352, 365, 374, 387, 396, 409, 418, 431, 440, 453, 462, 475, 484, 498],
    [104, 116, 305, 318, 325, 339, 347, 362, 370, 384, 391, 405, 414, 428, 436, 449, 457, 471, 480, 494],
    [110, 119, 300, 310, 324, 332, 346, 354, 368, 376, 390, 398, 412, 420, 434, 442, 456, 464, 478, 486],
    [101, 113, 308, 321, 330, 343, 352, 365, 374, 387, 396, 409, 418, 431, 440, 453, 462, 475, 484, 498],
    [104, 116, 305, 318, 325, 339, 347, 362, 370, 384, 391, 405, 414, 428, 436, 449, 457, 471, 480, 494],
    [110, 119, 300, 310, 324, 332, 346, 354, 368, 376, 390, 398, 412, 420, 434, 442, 456, 464, 478, 486],
    [101, 113, 308, 321, 330, 343, 352, 365, 374, 387, 396, 409, 418, 431, 440, 453, 462, 475, 484, 498],
    [104, 116, 305, 318, 325, 339, 347, 362, 370, 384, 391, 405, 414, 428, 436, 449, 457, 471, 480, 494],
    [110, 119, 300, 310, 324, 332, 346, 354, 368, 376, 390, 398, 412, 420, 434, 442, 456, 464, 478, 486],
    [101, 113, 308, 321, 330, 343, 352, 365, 374, 387, 396, 409, 418, 431, 440, 453, 462, 475, 484, 498],
    [104, 116, 305, 318, 325, 339, 347, 362, 370, 384, 391, 405, 414, 428, 436, 449, 457, 471, 480, 494],
    [110, 119, 300, 310, 324, 332, 346, 354, 368, 376, 390, 398, 412, 420, 434, 442, 456, 464, 478, 486],
    [101, 113, 308, 321, 330, 343, 352, 365, 374, 387, 396, 409, 418, 431, 440, 453, 462, 475, 484, 498],
    [104, 116, 305, 318, 325, 339, 347, 362, 370, 384, 391, 405, 414, 428, 436, 449, 457, 471, 480, 494],
    [110, 119, 300, 310, 324, 332, 346, 354, 368, 376, 390, 398, 412, 420, 434, 442, 456, 464, 478, 486],
    [101, 113, 308, 321, 330, 343, 352, 365, 374, 387, 396, 409, 418, 431, 440, 453, 462, 475, 484, 498],
    [104, 116, 305, 318, 325, 339, 347, 362, 370, 384, 391, 405, 414, 428, 436, 449, 457, 471, 480, 494],
    [110, 119, 300, 310, 324, 332, 346, 354, 368, 376, 390, 398, 412, 420, 434, 442, 456, 464, 478, 486],
    [101, 113, 308, 321, 330, 343, 352, 365, 374, 387, 396, 409, 418, 431, 440, 453, 462, 475, 484, 498],
    [104, 116, 305, 318, 325, 339, 347, 362, 370, 384, 391, 405, 414, 428, 436, 449, 457, 471, 480, 494],
]
cloud3_qty = [
    [214, 231, 205, 222, 238, 210, 227, 201, 219, 235, 208, 224, 216, 233, 203, 229, 212, 237, 220, 206],
    [266, 249, 274, 257, 242, 270, 253, 279, 261, 244, 268, 251, 276, 240, 263, 255, 272, 247, 258, 265],
    [283, 300, 292, 317, 305, 287, 313, 296, 309, 280, 302, 318, 285, 298, 311, 290, 306, 294, 315, 289],
    [353, 336, 347, 322, 333, 359, 326, 344, 330, 351, 337, 321, 348, 341, 356, 324, 339, 350, 328, 343],
    [381, 398, 361, 389, 368, 378, 395, 371, 363, 385, 374, 392, 369, 386, 377, 397, 362, 382, 372, 394],
    [410, 400, 423, 434, 419, 427, 404, 430, 438, 414, 406, 420, 433, 412, 428, 422, 407, 439, 426, 401],
    [477, 464, 455, 448, 472, 443, 460, 453, 466, 449, 476, 445, 463, 470, 440, 474, 456, 451, 469, 457],
    [494, 511, 485, 502, 518, 490, 507, 481, 499, 515, 488, 504, 496, 513, 483, 509, 492, 517, 500, 486],
    [546, 529, 554, 537, 522, 550, 533, 559, 541, 524, 548, 531, 556, 520, 543, 535, 552, 527, 538, 545],
    [563, 580, 572, 597, 585, 567, 593, 576, 589, 560, 582, 598, 565, 578, 591, 570, 586, 574, 595, 569],
    [633, 616, 627, 602, 613, 639, 606, 624, 610, 631, 617, 601, 628, 621, 636, 604, 619, 630, 608, 623],
    [661, 678, 641, 669, 648, 658, 675, 651, 643, 665, 654, 672, 649, 666, 657, 677, 642, 662, 652, 674],
    [690, 680, 703, 714, 699, 707, 684, 710, 718, 694, 686, 700, 713, 692, 708, 702, 687, 719, 706, 681],
    [757, 744, 735, 728, 752, 723, 740, 733, 746, 729, 756, 725, 743, 750, 720, 754, 736, 731, 749, 737],
    [774, 791, 765, 782, 798, 770, 787, 761, 779, 795, 768, 784, 776, 793, 763, 789, 772, 797, 780, 766],
    [826, 809, 834, 817, 802, 830, 813, 839, 821, 804, 828, 811, 836, 800, 823, 815, 832, 807, 818, 825],
    [843, 860, 852, 877, 865, 847, 873, 856, 869, 840, 862, 878, 845, 858, 871, 850, 866, 854, 875, 849],
    [913, 896, 907, 882, 893, 919, 886, 904, 890, 911, 897, 881, 908, 901, 916, 884, 899, 910, 888, 903],
    [941, 958, 921, 949, 928, 938, 955, 931, 923, 945, 934, 952, 929, 946, 937, 957, 922, 942, 932, 954],
    [970, 960, 983, 994, 979, 987, 964, 990, 998, 974, 966, 980, 993, 972, 988, 982, 967, 999, 986, 961],
    [1037, 1024, 1015, 1008, 1032, 1003, 1020, 1013, 1026, 1009, 1036, 1005, 1023, 1030, 1000, 1034, 1016, 1011, 1029, 1017],
    [1054, 1071, 1045, 1062, 1078, 1050, 1067, 1041, 1059, 1075, 1048, 1064, 1056, 1073, 1043, 1069, 1052, 1077, 1060, 1046],
    [1106, 1089, 1114, 1097, 1082, 1110, 1093, 1119, 1101, 1084, 1108, 1091, 1116, 1080, 1103, 1095, 1112, 1087, 1098, 1105],
    [1123, 1140, 1132, 1157, 1145, 1127, 1153, 1136, 1149, 1120, 1142, 1158, 1125, 1138, 1151, 1130, 1146, 1134, 1155, 1129],
    [1193, 1176, 1187, 1162, 1173, 1199, 1166, 1184, 1170, 1191, 1177, 1161, 1188, 1181, 1196, 1164, 1179, 1190, 1168, 1183],
    [1221, 1238, 1201, 1229, 1208, 1218, 1235, 1211, 1203, 1225, 1214, 1232, 1209, 1226, 1217, 1237, 1202, 1222, 1212, 1234],
    [1250, 1240, 1263, 1274, 1259, 1267, 1244, 1270, 1278, 1254, 1246, 1260, 1273, 1252, 1268, 1262, 1247, 1279, 1266, 1241],
    [1317, 1304, 1295, 1288, 1312, 1283, 1300, 1293, 1306, 1289, 1316, 1285, 1303, 1310, 1280, 1314, 1296, 1291, 1309, 1297],
    [1334, 1351, 1325, 1342, 1358, 1330, 1347, 1321, 1339, 1355, 1328, 1344, 1336, 1353, 1323, 1349, 1332, 1357, 1340, 1326],
    [1386, 1369, 1394, 1377, 1362, 1390, 1373, 1399, 1381, 1364, 1388, 1371, 1396, 1360, 1383, 1375, 1392, 1367, 1378, 1385],
    [1403, 1420, 1412, 1437, 1425, 1407, 1433, 1416, 1429, 1400, 1422, 1438, 1405, 1418, 1431, 1410, 1426, 1414, 1435, 1409],
    [1473, 1456, 1467, 1442, 1453, 1479, 1446, 1464, 1450, 1471, 1457, 1441, 1468, 1461, 1476, 1444, 1459, 1470, 1448, 1463],
    [1501, 1518, 1481, 1509, 1488, 1498, 1515, 1491, 1483, 1505, 1494, 1512, 1489, 1506, 1497, 1517, 1482, 1502, 1492, 1514],
    [1530, 1520, 1543, 1554, 1539, 1547, 1524, 1550, 1558, 1534, 1526, 1540, 1553, 1532, 1548, 1542, 1527, 1559, 1546, 1521],
    [1597, 1584, 1575, 1568, 1592, 1563, 1580, 1573, 1586, 1569, 1596, 1565, 1583, 1590, 1560, 1594, 1576, 1571, 1589, 1577],
    [1614, 1631, 1605, 1622, 1638, 1610, 1627, 1601, 1619, 1635, 1608, 1624, 1616, 1633, 1603, 1629, 1612, 1637, 1620, 1606],
    [1666, 1649, 1674, 1657, 1642, 1670, 1653, 1679, 1661, 1644, 1668, 1651, 1676, 1640, 1663, 1655, 1672, 1647, 1658, 1665],
    [1683, 1700, 1692, 1717, 1705, 1687, 1713, 1696, 1709, 1680, 1702, 1718, 1685, 1698, 1711, 1690, 1706, 1694, 1715, 1689],
    [1753, 1736, 1747, 1722, 1733, 1759, 1726, 1744, 1730, 1751, 1737, 1721, 1748, 1741, 1756, 1724, 1739, 1750, 1728, 1743],
    [1781, 1798, 1761, 1789, 1768, 1778, 1795, 1771, 1763, 1785, 1774, 1792, 1769, 1786, 1777, 1797, 1762, 1782, 1772, 1794],
]

# sparse points on the right of the cloud
tail_loss = [0.540, 0.546, 0.558, 0.559, 0.548, 0.561, 0.577, 0.577, 0.562, 0.548, 0.554, 0.550,
             0.541, 0.544, 0.577, 0.565, 0.547, 0.542, 0.548, 0.558, 0.577, 0.543, 0.544, 0.562,
             0.548, 0.567, 0.565, 0.554, 0.588, 0.624, 0.553, 0.548, 0.538, 0.562, 0.593, 0.561,
             0.560, 0.548, 0.587, 0.542, 0.535, 0.559, 0.565, 0.571, 0.537, 0.558]
tail_qty = [1787, 1734, 1691, 1645, 1667, 1543, 1532, 1496, 1514, 1508, 1419, 1392,
            1323, 1278, 1238, 1178, 1159, 1127, 1031, 1031, 976, 952, 844, 833,
            780, 761, 725, 729, 720, 709, 666, 666, 661, 594, 594, 558,
            534, 529, 494, 478, 481, 434, 404, 419, 359, 256]

layers = [(cloud_loss_milli, cloud_qty), (cloud2_loss_milli, cloud2_qty), (cloud3_loss_milli, cloud3_qty)]
for xs, ys in layers:
    bad_rows = [i for i, (a, b) in enumerate(zip(xs, ys)) if len(a) != len(b)]
    assert not bad_rows and len(xs) == len(ys), f"row mismatch: {bad_rows}"
assert len(left_loss) == len(left_qty) and len(tail_loss) == len(tail_qty)

loss = [0.0] * len(zero_loss_qty) + left_loss
qty = zero_loss_qty + left_qty
for xs, ys in layers:
    loss += [v / 1000 for row in xs for v in row]
    qty += [v for row in ys for v in row]
loss += tail_loss
qty += tail_qty

df = pd.DataFrame({"Loss_PoorHandlingByOthers": loss, "AvgQtyLoss_Kg": qty})

plt.figure(figsize=(6.4, 4.8))
sns.scatterplot(data=df, x="Loss_PoorHandlingByOthers", y="AvgQtyLoss_Kg")
plt.title("Average loss vs poor handling")
plt.savefig("out.png", dpi=100, bbox_inches="tight")
